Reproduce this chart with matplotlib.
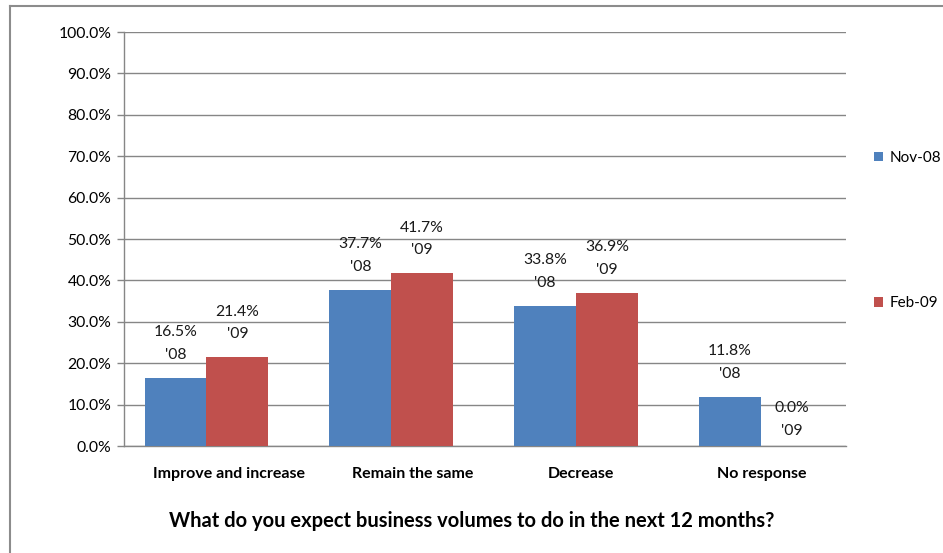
import matplotlib
matplotlib.use("Agg")
import matplotlib.pyplot as plt
import numpy as np
from matplotlib.patches import Patch
from matplotlib.lines import Line2D

plt.rcParams['font.family'] = ['Lato', 'DejaVu Sans']

categories = ["Improve and increase", "Remain the same", "Decrease", "No response"]
series_names = ["Nov-08", "Feb-09"]
series_tags = ["'08", "'09"]
nov08 = [16.5, 37.7, 33.8, 11.8]
feb09 = [21.4, 41.7, 36.9, 0.0]
yticks = [0, 10, 20, 30, 40, 50, 60, 70, 80, 90, 100]
title = "What do you expect business volumes to do in the next 12 months?"

colors = ["#4F81BD", "#C0504D"]
grid_color = "#868686"

fig = plt.figure(figsize=(9.43, 5.53), dpi=100)
ax = fig.add_axes([124 / 943, 1 - 446 / 553, (846 - 124) / 943, (446 - 32) / 553])

x = np.arange(len(categories))
w = 0.335
for i, (vals, col, tag) in enumerate(zip([nov08, feb09], colors, series_tags)):
    pos = x + (i - 0.5) * w
    ax.bar(pos, vals, width=w, color=col, zorder=3)
    for p, v in zip(pos, vals):
        ax.annotate(f"{v:.1f}%\n{tag}", xy=(p, v), xytext=(0, 11.5 if v > 0 else 6),
                    textcoords="offset points", ha="center", va="bottom",
                    fontsize=11.3, linespacing=1.8, color="#1a1a1a")

ax.set_xlim(-0.446, 3.46)
ax.set_ylim(0, 100)
ax.set_yticks(yticks)
ax.set_yticklabels([f"{t:.1f}%" for t in yticks], fontsize=11.3)

# category captions sit slightly right of the bar groups
label_shift = np.array([0.122, 0.117, 0.028, 0.005])
ax.set_xticks(x + label_shift)
ax.set_xticklabels(categories, fontsize=11.5, fontweight="bold")
ax.tick_params(axis="x", length=0, pad=15)
ax.tick_params(axis="y", length=5, width=1, color=grid_color, direction="out", pad=4)
ax.yaxis.grid(True, color=grid_color, linewidth=1, zorder=0)
ax.set_axisbelow(True)
for s in ["top", "right"]:
    ax.spines[s].set_visible(False)
for s in ["left", "bottom"]:
    ax.spines[s].set_color(grid_color)
    ax.spines[s].set_linewidth(1)

fig.text(471.5 / 943, 1 - 521 / 553, title, ha="center", va="center",
         fontsize=14.5, fontweight="bold")

handles = [Patch(facecolor=c, edgecolor="none") for c in colors]
fig.legend(handles, series_names, loc="upper left", bbox_to_anchor=(874 / 943, 1 - 151 / 553),
           frameon=False, fontsize=11, handlelength=0.6, handleheight=0.6,
           handletextpad=0.4, labelspacing=8.6, borderpad=0, borderaxespad=0)

# outer chart frame (top and left edges)
fig.add_artist(Line2D([9.5 / 943, 9.5 / 943], [0, 1 - 5.5 / 553], transform=fig.transFigure,
                      color="#8c8c8c", linewidth=1.5))
fig.add_artist(Line2D([9.5 / 943, 942 / 943], [1 - 5.5 / 553, 1 - 5.5 / 553], transform=fig.transFigure,
                      color="#8c8c8c", linewidth=1.5))

fig.savefig("out.png", dpi=100)
